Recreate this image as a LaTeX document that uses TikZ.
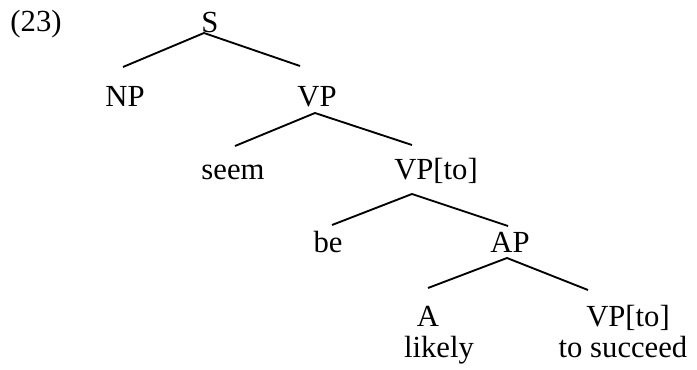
\documentclass[tikz,border=0pt]{standalone}
\usepackage{fontspec}
\setmainfont{Liberation Serif}

\begin{document}
\begin{tikzpicture}[x=0.75pt, y=-0.75pt,
    every node/.style={anchor=base, inner sep=0pt, font=\fontsize{23}{28}\selectfont},
    branch/.style={line width=1.4pt}]
    \useasboundingbox (0,0) rectangle (697,370);

    % labels
    \node (ex) at (36,32) {(23)};
    \node (s) at (210,33) {S};
    \node (np) at (125,107) {NP};
    \node (vp) at (317,107) {VP};
    \node (seem) at (233,180) {seem};
    \node (vpto) at (436,180) {VP[to]};
    \node (be) at (328,253) {be};
    \node (ap) at (510,253) {AP};
    \node (a) at (428,327) {A};
    \node (vpto2) at (628,327) {VP[to]};
    \node (likely) at (439,358) {likely};
    \node (succeed) at (623,358) {to succeed};

    % branch ends
    \coordinate (s-top) at (204,33);
    \coordinate (s-l) at (123,67);
    \coordinate (s-r) at (300,66);
    \coordinate (vp-top) at (315,113);
    \coordinate (vp-l) at (235,146);
    \coordinate (vp-r) at (412,145);
    \coordinate (vpto-top) at (412,194);
    \coordinate (vpto-l) at (332,225);
    \coordinate (vpto-r) at (508,226);
    \coordinate (ap-top) at (507,258);
    \coordinate (ap-l) at (428,288);
    \coordinate (ap-r) at (588,290);

    \draw[branch] (s-l) -- (s-top) -- (s-r);
    \draw[branch] (vp-l) -- (vp-top) -- (vp-r);
    \draw[branch] (vpto-l) -- (vpto-top) -- (vpto-r);
    \draw[branch] (ap-l) -- (ap-top) -- (ap-r);
\end{tikzpicture}
\end{document}
